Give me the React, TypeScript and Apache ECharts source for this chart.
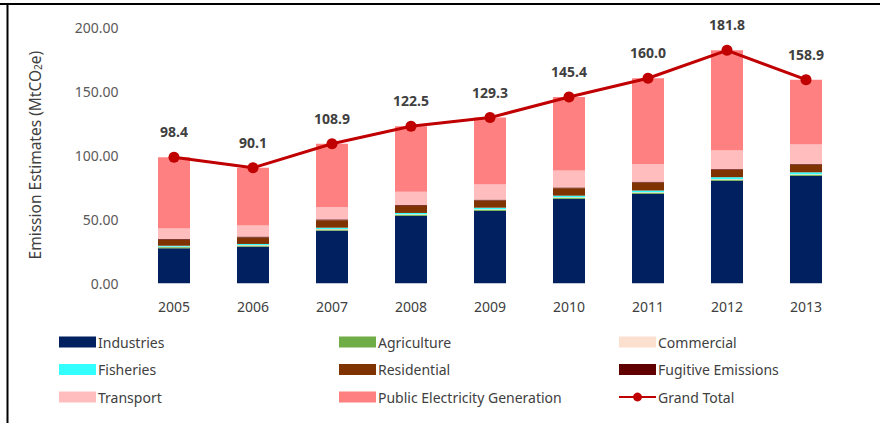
import React, { useEffect, useRef } from "react";
import * as echarts from "echarts";

const years = ["2005", "2006", "2007", "2008", "2009", "2010", "2011", "2012", "2013"];
const industries = [27.3, 28.6, 41.1, 52.6, 56.5, 65.9, 69.8, 80.0, 83.8];
const agriculture = [0.9, 0.9, 0.9, 0.9, 0.9, 0.9, 0.9, 0.9, 0.9];
const commercial = [0.4, 0.4, 0.4, 0.4, 0.4, 0.4, 0.4, 0.4, 0.4];
const fisheries = [0.7, 0.8, 1.0, 1.0, 1.2, 1.2, 1.3, 1.5, 1.5];
const residential = [4.7, 5.0, 5.8, 5.4, 5.6, 5.8, 6.2, 5.7, 6.0];
const fugitive = [0.7, 0.8, 0.7, 0.7, 0.7, 0.6, 0.7, 0.6, 0.6];
const transport = [8.0, 8.6, 9.4, 10.4, 11.7, 13.3, 13.8, 14.8, 15.4];
const publicElectricity = [55.7, 45.0, 49.6, 51.1, 52.3, 57.3, 66.9, 77.9, 50.3];
const grandTotal = [98.4, 90.1, 108.9, 122.5, 129.3, 145.4, 160.0, 181.8, 158.9];
const yTicks = [0, 50, 100, 150, 200];

const barSeries = [
  { name: "Industries", data: industries, color: "#002060" },
  { name: "Agriculture", data: agriculture, color: "#70AD47" },
  { name: "Commercial", data: commercial, color: "#FBE0D0" },
  { name: "Fisheries", data: fisheries, color: "#33FFFF" },
  { name: "Residential", data: residential, color: "#7F3300" },
  { name: "Fugitive Emissions", data: fugitive, color: "#600000" },
  { name: "Transport", data: transport, color: "#FFBDBD" },
  { name: "Public Electricity Generation", data: publicElectricity, color: "#FF8080" },
];

const legendColumns = [
  ["Industries", "Fisheries", "Transport"],
  ["Agriculture", "Residential", "Public Electricity Generation"],
  ["Commercial", "Fugitive Emissions", "Grand Total"],
];
const legendLefts = [54, 334, 613];

export default function App() {
  const ref = useRef<HTMLDivElement>(null);
  useEffect(() => {
    if (!ref.current) return;
    const chart = echarts.init(ref.current, null, { renderer: "svg" });
    const font = "'Noto Sans', 'Open Sans', sans-serif";
    chart.setOption({
      animation: false,
      textStyle: { fontFamily: font },
      grid: { left: 134.5, right: 40.5, top: 27, bottom: 139.7 },
      legend: legendColumns.map((col, i) => ({
        orient: "vertical",
        left: legendLefts[i],
        top: 329,
        itemWidth: 37,
        itemHeight: 11,
        itemGap: 11.5,
        textStyle: { fontFamily: font, fontSize: 14, color: "#404040", lineHeight: 16, padding: [0, 0, 0, -3] },
        data: col.map((n) => (n === "Grand Total" ? { name: n } : { name: n, icon: "rect" })),
      })),
      xAxis: {
        type: "category",
        data: years,
        axisLine: { show: false },
        axisTick: { show: false },
        axisLabel: { color: "#404040", fontSize: 14, margin: 16, fontFamily: font },
      },
      yAxis: {
        type: "value",
        min: yTicks[0],
        max: yTicks[yTicks.length - 1],
        interval: 50,
        splitLine: { show: false },
        axisLine: { show: false },
        axisTick: { show: false },
        axisLabel: {
          color: "#595959",
          fontSize: 14,
          margin: 16,
          fontFamily: font,
          formatter: (v: number) => v.toFixed(2),
        },
        name: "{a|Emission Estimates (MtCO}{s|2}{a|e)}",
        nameLocation: "middle",
        nameGap: 92,
        nameRotate: 90,
        nameTextStyle: {
          rich: {
            a: { fontSize: 15.5, color: "#404040", fontFamily: font },
            s: { fontSize: 10, color: "#404040", fontFamily: font, verticalAlign: "bottom", padding: [6, 0, 0, 0] },
          },
        },
      },
      series: [
        ...barSeries.map((s) => ({
          name: s.name,
          type: "bar",
          stack: "total",
          data: s.data,
          barWidth: 32,
          itemStyle: { color: s.color },
        })),
        {
          name: "Grand Total",
          type: "line",
          data: grandTotal,
          symbol: "circle",
          symbolSize: 11,
          lineStyle: { color: "#C00000", width: 3 },
          itemStyle: { color: "#C00000" },
          label: {
            show: true,
            position: "top",
            distance: 13,
            fontSize: 14,
            fontWeight: "bold",
            color: "#404040",
            fontFamily: font,
            formatter: (p: any) => Number(p.value).toFixed(1),
          },
          z: 5,
        },
      ],
      graphic: [
        { type: "line", shape: { x1: 0, y1: 4, x2: 880, y2: 4 }, style: { stroke: "#000", lineWidth: 2 } },
        { type: "line", shape: { x1: 7.5, y1: 3, x2: 7.5, y2: 423 }, style: { stroke: "#000", lineWidth: 2 } },
      ],
    });
    return () => chart.dispose();
  }, []);
  return (
    <div
      ref={ref}
      style={{ position: "fixed", left: 0, top: 0, width: 886, height: 423, background: "#fff" }}
    />
  );
}
